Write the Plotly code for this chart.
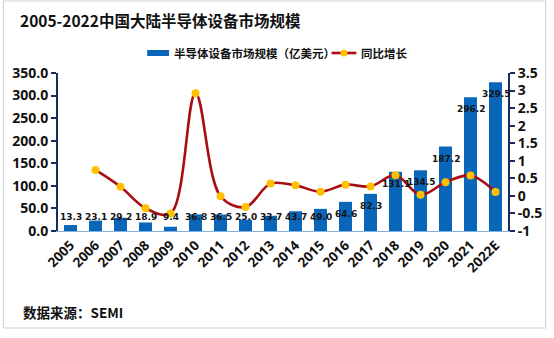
import plotly.graph_objects as go

# 中国大陆半导体设备市场规模（亿美元）及同比增长
years = ["2005", "2006", "2007", "2008", "2009", "2010", "2011", "2012", "2013",
         "2014", "2015", "2016", "2017", "2018", "2019", "2020", "2021", "2022E"]
market_size = [13.3, 23.1, 29.2, 18.9, 9.4, 36.8, 36.5, 25.0, 33.7,
               43.7, 49.0, 64.6, 82.3, 131.1, 134.5, 187.2, 296.2, 329.5]
yoy_growth = [None, 0.74, 0.26, -0.35, -0.50, 2.92, -0.01, -0.32, 0.35,
              0.30, 0.12, 0.32, 0.27, 0.59, 0.03, 0.39, 0.58, 0.11]

left_ticks = [0, 50, 100, 150, 200, 250, 300, 350]
right_ticks = [-1, -0.5, 0, 0.5, 1, 1.5, 2, 2.5, 3, 3.5]
right_ticktext = ["-1", "-0.5", "0", "0.5", "1", "1.5", "2", "2.5", "3", "3.5"]

BAR_NAME = "半导体设备市场规模（亿美元）"
LINE_NAME = "同比增长"

BAR_BLUE = "#0a66b8"
LINE_RED = "#a80d12"
MARKER_GOLD = "#ffc000"
AXIS_NAVY = "#1c2b5e"
CJK = "Noto Sans CJK SC"
NUM = "Open Sans"

W, H = 554, 338
L, R, T, B = 57, 43, 73, 107
pw, ph = W - L - R, H - T - B


def px(x):
    """pixel column -> paper x"""
    return (x - L) / pw


def py(y):
    """pixel row -> paper y"""
    return 1 - (y - T) / ph


fig = go.Figure()

fig.add_trace(go.Bar(
    x=years, y=market_size, name=BAR_NAME,
    marker=dict(color=BAR_BLUE, line=dict(width=0)),
    yaxis="y", showlegend=False,
))

fig.add_trace(go.Scatter(
    x=years, y=yoy_growth, name=LINE_NAME, yaxis="y2",
    mode="lines+markers",
    line=dict(color=LINE_RED, width=2.6, shape="spline", smoothing=1.0),
    marker=dict(color=MARKER_GOLD, size=8, line=dict(width=0)),
    connectgaps=False, showlegend=False,
))

# value labels near the top of each bar (kept above the baseline for short bars);
# x is given as the category index so numeric-looking year names are not misread
for i, v in enumerate(market_size):
    fig.add_annotation(
        x=i, y=max(v - 27, 31), xref="x", yref="y",
        text=f"{v:.1f}", showarrow=False,
        font=dict(family="DejaVu Sans", size=9, color="#141414", weight="bold"),
    )

# title and source note
fig.add_annotation(
    x=px(17), y=py(20), xref="paper", yref="paper", xanchor="left", yanchor="middle",
    text="<b>2005-2022中国大陆半导体设备市场规模</b>", showarrow=False,
    font=dict(family=CJK, size=15.5, color="#111111"),
)
fig.add_annotation(
    x=px(20), y=py(312), xref="paper", yref="paper", xanchor="left", yanchor="middle",
    text="<b>数据来源：SEMI</b>", showarrow=False,
    font=dict(family=CJK, size=13.5, color="#111111"),
)

# legend drawn by hand: wide bar swatch and line-with-marker swatch
legend_font = dict(family=CJK, size=11.5, color="#111111")
fig.add_shape(type="rect", xref="paper", yref="paper",
              x0=px(147), x1=px(169), y0=py(56), y1=py(50),
              fillcolor=BAR_BLUE, line=dict(width=0))
fig.add_annotation(
    x=px(172), y=py(53), xref="paper", yref="paper", xanchor="left", yanchor="middle",
    text=f"<b>{BAR_NAME}</b>", showarrow=False, font=legend_font,
)
fig.add_shape(type="line", xref="paper", yref="paper",
              x0=px(333), x1=px(358), y0=py(53), y1=py(53),
              line=dict(color=LINE_RED, width=2.6))
fig.add_shape(type="circle", xref="paper", yref="paper",
              x0=px(342), x1=px(349), y0=py(56.5), y1=py(49.5),
              fillcolor=MARKER_GOLD, line=dict(width=0))
fig.add_annotation(
    x=px(361), y=py(53), xref="paper", yref="paper", xanchor="left", yanchor="middle",
    text=f"<b>{LINE_NAME}</b>", showarrow=False, font=legend_font,
)

# light frame around the whole chart
fig.add_shape(type="rect", xref="paper", yref="paper",
              x0=px(2), y0=py(1), x1=px(549), y1=py(328),
              line=dict(color="#d4d4d4", width=1.2), layer="below")

fig.update_layout(
    width=W, height=H,
    margin=dict(l=L, r=R, t=T, b=B, pad=0),
    paper_bgcolor="white", plot_bgcolor="white",
    bargap=0.48,
    showlegend=False,
    xaxis=dict(
        type="category", range=[-0.5, 17.5],
        tickangle=-45, showgrid=False, ticks="",
        showline=True, linecolor="#7fb0e0", linewidth=1.2,
        tickfont=dict(family=NUM, size=13.5, color="#111111", weight="bold"),
    ),
    yaxis=dict(
        range=[0, 350], tickvals=left_ticks, tickformat=".1f",
        showgrid=False, zeroline=False,
        showline=True, linecolor=AXIS_NAVY, linewidth=2,
        ticks="outside", ticklen=5, tickwidth=1.5, tickcolor=AXIS_NAVY,
        tickfont=dict(family=NUM, size=14, color="#111111", weight="bold"),
    ),
    yaxis2=dict(
        range=[-1, 3.5], tickvals=right_ticks, ticktext=right_ticktext,
        overlaying="y", side="right",
        showgrid=False, zeroline=False,
        showline=True, linecolor=AXIS_NAVY, linewidth=2,
        ticks="outside", ticklen=5, tickwidth=1.5, tickcolor=AXIS_NAVY,
        tickfont=dict(family=NUM, size=14, color="#111111", weight="bold"),
    ),
)

fig.write_html("out.html")
